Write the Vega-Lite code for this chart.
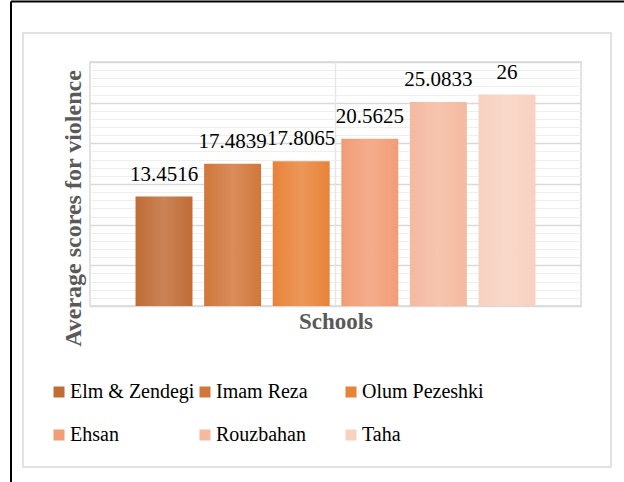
{
  "$schema": "https://vega.github.io/schema/vega-lite/v6.json",
  "autosize": {"type": "none"},
  "padding": {"left": 90, "top": 62, "right": 43, "bottom": 176},
  "width": 491,
  "height": 244,
  "background": "white",
  "config": {
    "view": {"stroke": "#d9d9d9", "strokeWidth": 1.5},
    "font": "Times New Roman, Liberation Serif, serif"
  },
  "datasets": {
    "scores": [
      {"school": "Elm & Zendegi", "score": 13.4516},
      {"school": "Imam Reza", "score": 17.4839},
      {"school": "Olum Pezeshki", "score": 17.8065},
      {"school": "Ehsan", "score": 20.5625},
      {"school": "Rouzbahan", "score": 25.0833},
      {"school": "Taha", "score": 26}
    ],
    "frame": [
      {"part": "box", "x": -0.1365, "x2": 1.0611, "y": -0.6598, "y2": 1.1189},
      {"part": "black", "x": -0.1609, "x2": -0.1609, "y": -0.7213, "y2": 1.248},
      {"part": "black", "x": -0.1609, "x2": 1.0876, "y": 1.248, "y2": 1.248},
      {"part": "center", "x": 0.5, "x2": 0.5, "y": 0, "y2": 1}
    ]
  },
  "layer": [
    {
      "data": {"name": "frame"},
      "layer": [
        {
          "transform": [{"filter": "datum.part === 'box'"}],
          "mark": {"type": "rect", "fillOpacity": 0, "stroke": "#d9d9d9", "strokeWidth": 1.5}
        },
        {
          "transform": [{"filter": "datum.part === 'black'"}],
          "mark": {"type": "rule", "stroke": "black", "strokeWidth": 2}
        },
        {
          "transform": [{"filter": "datum.part === 'center'"}],
          "mark": {"type": "rule", "stroke": "#e6e6e6", "strokeWidth": 1.5}
        }
      ],
      "encoding": {
        "x": {"field": "x", "type": "quantitative", "scale": {"domain": [0, 1], "nice": false, "zero": false}, "axis": null},
        "x2": {"field": "x2"},
        "y": {"field": "y", "type": "quantitative", "scale": {"domain": [0, 1], "nice": false, "zero": false}, "axis": null},
        "y2": {"field": "y2"}
      }
    },
    {
      "data": {"name": "scores"},
      "encoding": {
        "x": {
          "field": "school", "type": "nominal",
          "sort": ["Elm & Zendegi", "Imam Reza", "Olum Pezeshki", "Ehsan", "Rouzbahan", "Taha"],
          "scale": {"paddingInner": 0.17, "paddingOuter": 0.664},
          "axis": {"title": "Schools", "labels": false, "ticks": false, "domain": false, "grid": false,
                   "titleFont": "Times New Roman, Liberation Serif, serif", "titleFontSize": 23, "titleFontWeight": "bold",
                   "titleColor": "#595959", "titlePadding": 4}
        },
        "y": {
          "field": "score", "type": "quantitative",
          "scale": {"domain": [0, 30], "nice": false},
          "axis": {
            "title": "Average scores for violence",
            "values": [0,1,2,3,4,5,6,7,8,9,10,11,12,13,14,15,16,17,18,19,20,21,22,23,24,25,26,27,28,29,30],
            "labels": false, "ticks": false, "domain": false, "grid": true,
            "gridColor": {"condition": {"test": "datum.value % 5 === 0", "value": "#d9d9d9"}, "value": "#efefef"},
            "gridWidth": {"condition": {"test": "datum.value % 5 === 0", "value": 1.5}, "value": 1.2},
            "titleFont": "Times New Roman, Liberation Serif, serif", "titleFontSize": 24, "titleFontWeight": "bold",
            "titleColor": "#595959", "titlePadding": 5, "titleY": 146
          }
        }
      },
      "layer": [
        {
          "mark": {"type": "bar"},
          "encoding": {
            "color": {
              "field": "school", "type": "nominal",
              "sort": ["Elm & Zendegi", "Imam Reza", "Olum Pezeshki", "Ehsan", "Rouzbahan", "Taha"],
              "scale": {"range": ["#c06c36", "#d1773b", "#e88339", "#f19d76", "#f5b9a0", "#f8d1c0"]},
              "legend": {
                "title": null, "orient": "none", "legendX": -41, "legendY": 320,
                "direction": "horizontal",
                "columns": 3, "gridAlign": "all", "columnPadding": -3, "rowPadding": 23,
                "symbolType": "square", "symbolSize": 121, "symbolStrokeWidth": 0,
                "labelFont": "Times New Roman, Liberation Serif, serif", "labelFontSize": 20, "labelColor": "black",
                "labelOffset": 1, "labelLimit": 300, "padding": 0
              }
            }
          }
        },
        {
          "mark": {
            "type": "bar",
            "fill": {
              "gradient": "linear", "x1": 0, "y1": 0, "x2": 1, "y2": 0,
              "stops": [
                {"offset": 0, "color": "rgba(255,255,255,0)"},
                {"offset": 0.5, "color": "rgba(255,255,255,0.16)"},
                {"offset": 1, "color": "rgba(255,255,255,0)"}
              ]
            }
          }
        },
        {
          "mark": {"type": "text", "baseline": "alphabetic", "dy": -16, "font": "Times New Roman, Liberation Serif, serif", "fontSize": 21, "color": "black"},
          "encoding": {"text": {"field": "score", "type": "quantitative"}}
        }
      ]
    }
  ],
  "resolve": {"scale": {"x": "independent", "y": "independent"}}
}
